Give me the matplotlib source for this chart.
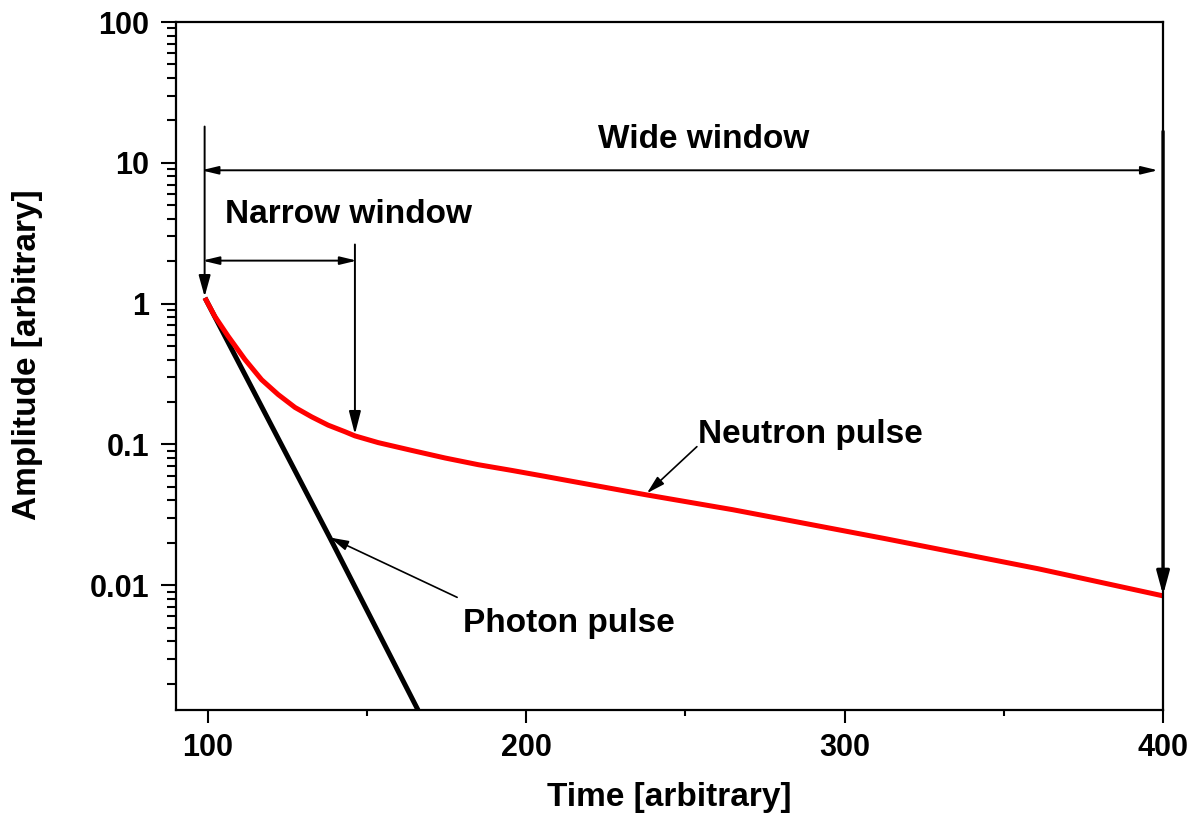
import numpy as np
import matplotlib.pyplot as plt
from matplotlib.ticker import FixedLocator, FixedFormatter, LogLocator, NullFormatter
from matplotlib.patches import ArrowStyle

plt.rcParams['font.family'] = ['Liberation Sans', 'DejaVu Sans']
plt.rcParams['font.weight'] = 'bold'

# neutron pulse (red)
neutron_t = [99.1, 102.2, 106.4, 111.7, 116.9, 122.1, 127.4, 132.6, 137.8, 143.1, 146.2,
             153.5, 164.0, 174.5, 184.9, 195.4, 205.9, 213.2, 237.3, 264.8, 312.8, 360.7, 400]
neutron_a = [1.098, 0.812, 0.586, 0.400, 0.288, 0.226, 0.183, 0.157, 0.137, 0.123, 0.115,
             0.103, 0.0907, 0.0801, 0.0718, 0.0654, 0.0593, 0.0553, 0.0440, 0.0344, 0.0214, 0.0131, 0.0084]

# photon pulse (black)
photon_t = [99.1, 138.4, 166.0]
photon_a = [1.10, 0.0216, 0.0013]

yticks = [0.01, 0.1, 1, 10, 100]
ytick_labels = ['0.01', '0.1', '1', '10', '100']
xticks = [100, 200, 300, 400]
xminor = [150, 250, 350]

fig = plt.figure(figsize=(11.93, 8.22), dpi=100)
ax = fig.add_axes([0.1475, 0.1363, 0.8274, 0.8369])

ax.plot(photon_t, photon_a, color='black', lw=3.6, solid_capstyle='butt')
ax.plot(neutron_t, neutron_a, color='red', lw=3.6, solid_capstyle='butt', solid_joinstyle='round')

ax.set_yscale('log')
ax.set_xlim(90, 400)
ax.set_ylim(0.0013, 100)

ax.yaxis.set_major_locator(FixedLocator(yticks))
ax.yaxis.set_major_formatter(FixedFormatter(ytick_labels))
ax.yaxis.set_minor_locator(LogLocator(base=10, subs=np.arange(2, 10)))
ax.yaxis.set_minor_formatter(NullFormatter())
ax.xaxis.set_major_locator(FixedLocator(xticks))
ax.xaxis.set_minor_locator(FixedLocator(xminor))

for s in ax.spines.values():
    s.set_linewidth(1.6)

ax.tick_params(axis='both', which='both', direction='out', width=1.5)
ax.tick_params(axis='y', which='major', length=11, pad=8, labelsize=22)
ax.tick_params(axis='y', which='minor', length=6.5)
ax.tick_params(axis='x', which='major', length=9.5, pad=7, labelsize=22)
ax.tick_params(axis='x', which='minor', length=4.5)

ax.set_xlabel('Time [arbitrary]', fontsize=24, fontweight='bold')
ax.set_ylabel('Amplitude [arbitrary]', fontsize=24, fontweight='bold')
ax.xaxis.set_label_coords(0.5, -0.105)
ax.yaxis.set_label_coords(-0.135, 0.516)


def arrow(tail, head, style='-|>', hl=13, hw=3.6, lw=1.4):
    st = ArrowStyle(style, head_length=hl, head_width=hw)
    ax.annotate('', xy=head, xytext=tail,
                arrowprops=dict(arrowstyle=st, color='black', lw=lw,
                                shrinkA=0, shrinkB=0, mutation_scale=1))


# wide window
arrow((99, 18.1), (99, 1.12))
arrow((98.0, 8.85), (398.4, 8.85), style='<|-|>', hl=10, hw=2.4)
arrow((400, 16.7), (400, 0.0085), lw=2.4, hl=14, hw=3.8)
ax.text(222.5, 12.8, 'Wide window', fontsize=24, fontweight='bold', va='baseline')

# narrow window
arrow((98.3, 2.02), (146.8, 2.02), style='<|-|>', hl=10, hw=2.4)
arrow((146.2, 2.63), (146.2, 0.118), hl=14, hw=3.6)
ax.text(105.4, 3.76, 'Narrow window', fontsize=24, fontweight='bold', va='baseline')

# pulse labels
arrow((253.6, 0.0964), (237.9, 0.0450), hl=11, hw=3.0, lw=1.2)
ax.text(254, 0.1028, 'Neutron pulse', fontsize=24, fontweight='bold', va='baseline')
arrow((178.3, 0.0082), (138.4, 0.0218), hl=11, hw=3.0, lw=1.2)
ax.text(180.1, 0.00463, 'Photon pulse', fontsize=24, fontweight='bold', va='baseline')

fig.savefig('out.png', dpi=100)
